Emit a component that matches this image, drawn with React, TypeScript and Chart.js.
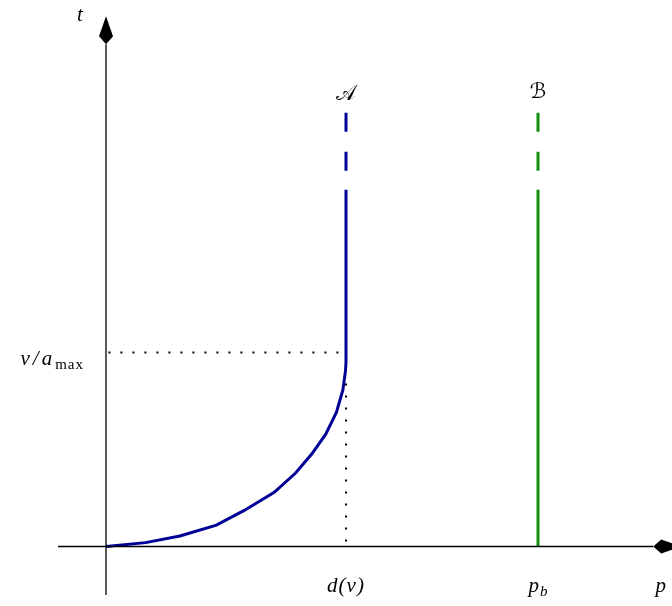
import React, { useEffect, useRef } from "react";
import { Chart, registerables } from "chart.js";
Chart.register(...registerables);

// position p and time t of the braking curve
const curveP = [0, 1.65, 3.08, 4.6, 5.76, 7.01, 7.9, 8.58, 9.15, 9.6, 9.87, 9.98, 10];
const curveT = [0, 0.2, 0.54, 1.1, 1.86, 2.79, 3.79, 4.78, 5.78, 6.91, 8.07, 9.07, 9.5];
const dV = 10; // d(v)
const vOverAmax = 10; // v/a_max
const pB = 18; // p_b
const solidTop = 18.4;
const dashTop = 22.37;
const xAxisExtent = [-2, 22.8];
const yAxisExtent = [-2.5, 25.9];
const xRange = [-2, 23.5];
const yRange = [-2.5, 27.25];
const dotHLine = [0.1, 10];
const dotVLine = [8.4, 0.1];
const xTickValues = [dV, pB];
const xTickLabels = ["d(v)", "p|b"];
const yTickValues = [vOverAmax];
const yTickLabels = ["v/a|max"];
const curveNames = ["𝒜", "ℬ"];
const axisNames = ["p", "t"];

const BLUE = "rgb(0,0,150)";
const GREEN = "rgb(15,145,15)";
const MATH = "'Liberation Serif', 'DejaVu Serif', serif";

function drawMath(ctx: CanvasRenderingContext2D, s: string, x: number, y: number, align: "left" | "center" | "right", size: number, spacing = 0, subSpacing = 0) {
  const [main, sub] = s.split("|");
  const c = ctx as any;
  c.letterSpacing = `${spacing}px`;
  ctx.font = `italic ${size}px ${MATH}`;
  const wMain = ctx.measureText(main).width;
  let subFont = "";
  let wSub = 0;
  if (sub) {
    const upright = sub.length > 1;
    subFont = `${upright ? "" : "italic "}${Math.round(size * 0.72)}px ${MATH}`;
    c.letterSpacing = `${subSpacing}px`;
    ctx.font = subFont;
    wSub = ctx.measureText(sub).width;
  }
  const total = wMain + wSub;
  let left = x;
  if (align === "center") left = x - total / 2;
  if (align === "right") left = x - total;
  ctx.textAlign = "left";
  ctx.textBaseline = "alphabetic";
  ctx.fillStyle = "#000";
  c.letterSpacing = `${spacing}px`;
  ctx.font = `italic ${size}px ${MATH}`;
  ctx.fillText(main, left, y);
  if (sub) {
    c.letterSpacing = `${subSpacing}px`;
    ctx.font = subFont;
    ctx.fillText(sub, left + wMain, y + size * 0.2);
  }
  c.letterSpacing = "0px";
}

function arrow(ctx: CanvasRenderingContext2D, bx: number, by: number, dx: number, dy: number) {
  const nx = -dy, ny = dx;
  ctx.beginPath();
  ctx.moveTo(bx, by);
  ctx.lineTo(bx + dx * 8 + nx * 7, by + dy * 8 + ny * 7);
  ctx.lineTo(bx + dx * 28, by + dy * 28);
  ctx.lineTo(bx + dx * 8 - nx * 7, by + dy * 8 - ny * 7);
  ctx.closePath();
  ctx.fillStyle = "#000";
  ctx.fill();
}

const annotations = {
  id: "annotations",
  afterDatasetsDraw(chart: any) {
    const ctx = chart.ctx as CanvasRenderingContext2D;
    const xs = chart.scales.x, ys = chart.scales.y;
    const x0 = xs.getPixelForValue(0), y0 = ys.getPixelForValue(0);
    ctx.save();
    arrow(ctx, xs.getPixelForValue(xAxisExtent[1]), y0, 1, 0);
    arrow(ctx, x0, ys.getPixelForValue(yAxisExtent[1]), 0, -1);
    xTickValues.forEach((v, i) => drawMath(ctx, xTickLabels[i], xs.getPixelForValue(v), y0 + 45, "center", 21, 1));
    yTickValues.forEach((v, i) => drawMath(ctx, yTickLabels[i], x0 - 22, ys.getPixelForValue(v) + 12, "right", 21, 3, 1));
    drawMath(ctx, axisNames[0], xs.getPixelForValue(22.9), y0 + 45, "left", 21);
    drawMath(ctx, axisNames[1], x0 - 29, ys.getPixelForValue(27.1), "left", 21);
    ctx.font = `21px 'DejaVu Serif', 'DejaVu Sans', serif`;
    ctx.textAlign = "center";
    ctx.fillStyle = "#000";
    ctx.fillText(curveNames[0], xs.getPixelForValue(dV), ys.getPixelForValue(dashTop) - 13);
    ctx.fillText(curveNames[1], xs.getPixelForValue(pB), ys.getPixelForValue(dashTop) - 15);
    ctx.restore();
  },
};

export default function App() {
  const ref = useRef<HTMLCanvasElement>(null);
  useEffect(() => {
    if (!ref.current) return;
    const line = (data: { x: number; y: number }[], color: string, width: number, dash: number[] = [], cap: CanvasLineCap = "butt") => ({
      data,
      borderColor: color,
      borderWidth: width,
      borderDash: dash,
      borderCapStyle: cap,
      pointRadius: 0,
      showLine: true,
      tension: 0,
      fill: false,
    });
    const curve = curveP.map((p, i) => ({ x: p, y: curveT[i] }));
    const chart = new Chart(ref.current, {
      type: "scatter",
      data: {
        datasets: [
          line([{ x: xAxisExtent[0], y: 0 }, { x: xAxisExtent[1], y: 0 }], "#000", 1.3),
          line([{ x: 0, y: yAxisExtent[0] }, { x: 0, y: yAxisExtent[1] }], "#000", 1.3),
          line([{ x: dotHLine[0], y: vOverAmax }, { x: dotHLine[1], y: vOverAmax }], "#000", 2, [2, 10]),
          line([{ x: dV, y: dotVLine[0] }, { x: dV, y: dotVLine[1] }], "#000", 2, [2, 10]),
          line([...curve, { x: dV, y: vOverAmax }, { x: dV, y: solidTop }], BLUE, 3),
          line([{ x: dV, y: dashTop }, { x: dV, y: solidTop }], BLUE, 3, [19, 20]),
          line([{ x: pB, y: 0 }, { x: pB, y: solidTop }], GREEN, 3),
          line([{ x: pB, y: dashTop }, { x: pB, y: solidTop }], GREEN, 3, [19, 20]),
        ] as any,
      },
      options: {
        animation: false,
        responsive: false,
        layout: { padding: { left: 58, right: 2, top: 18, bottom: 11 } },
        plugins: { legend: { display: false }, tooltip: { enabled: false } },
        scales: {
          x: { type: "linear", min: xRange[0], max: xRange[1], display: false },
          y: { type: "linear", min: yRange[0], max: yRange[1], display: false },
        },
      },
      plugins: [annotations],
    });
    return () => chart.destroy();
  }, []);
  return (
    <div style={{ position: "fixed", left: 0, top: 0, width: 672, height: 606, background: "#fff" }}>
      <canvas ref={ref} width={672} height={606} />
    </div>
  );
}
